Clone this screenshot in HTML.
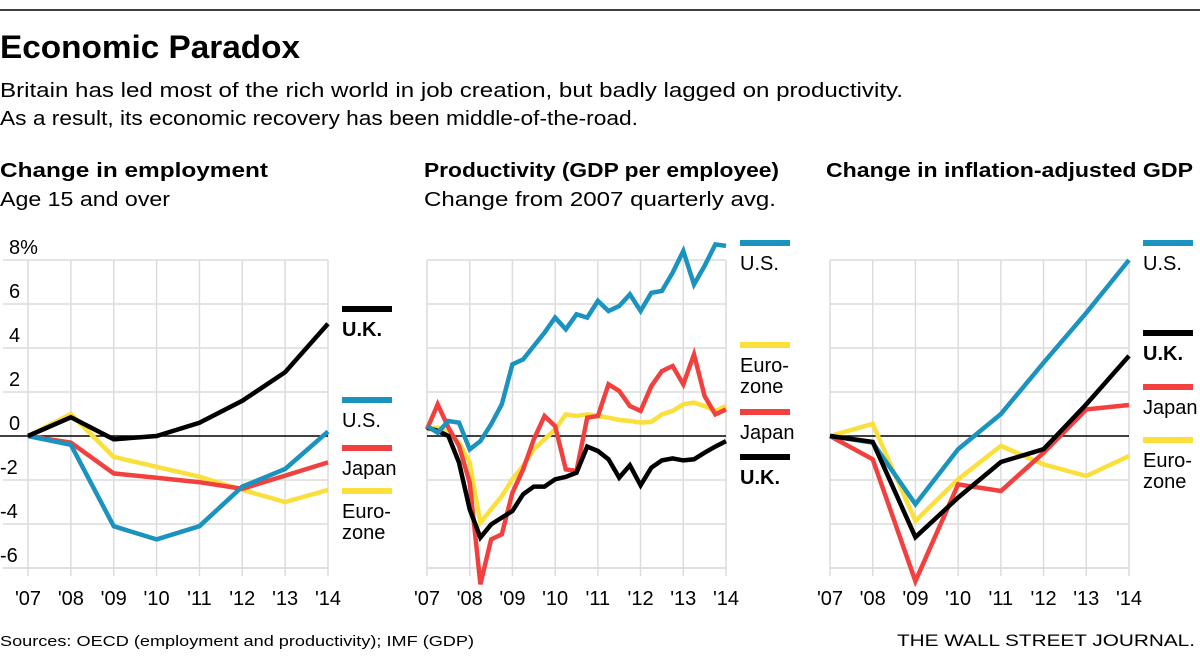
<!DOCTYPE html>
<html><head><meta charset="utf-8"><style>
html,body{margin:0;padding:0;background:#fff;width:1200px;height:657px;overflow:hidden}
text{font-family:"Liberation Sans",sans-serif}
</style></head><body>
<svg id="chart" width="1200" height="657" viewBox="0 0 1200 657" xmlns="http://www.w3.org/2000/svg">
<line x1="0" y1="10" x2="1200" y2="10" stroke="#000" stroke-width="1.5"/>
<text x="0" y="58" font-size="32" font-weight="bold" textLength="300" lengthAdjust="spacingAndGlyphs">Economic Paradox</text>
<text x="0" y="97" font-size="20" textLength="903" lengthAdjust="spacingAndGlyphs">Britain has led most of the rich world in job creation, but badly lagged on productivity.</text>
<text x="0" y="125" font-size="20" textLength="638" lengthAdjust="spacingAndGlyphs">As a result, its economic recovery has been middle-of-the-road.</text>
<text x="0" y="177" font-size="20" font-weight="bold" textLength="268" lengthAdjust="spacingAndGlyphs">Change in employment</text>
<text x="0" y="206" font-size="20" textLength="170" lengthAdjust="spacingAndGlyphs">Age 15 and over</text>
<text x="424" y="177" font-size="20" font-weight="bold" textLength="355" lengthAdjust="spacingAndGlyphs">Productivity (GDP per employee)</text>
<text x="424" y="206" font-size="20" textLength="352" lengthAdjust="spacingAndGlyphs">Change from 2007 quarterly avg.</text>
<text x="826" y="177" font-size="20" font-weight="bold" textLength="367" lengthAdjust="spacingAndGlyphs">Change in inflation-adjusted GDP</text>
<text x="0" y="646" font-size="15" textLength="474" lengthAdjust="spacingAndGlyphs">Sources: OECD (employment and productivity); IMF (GDP)</text>
<text x="1195" y="646" font-size="17" text-anchor="end" font-family="Liberation Serif,serif" textLength="298" lengthAdjust="spacingAndGlyphs">THE WALL STREET JOURNAL.</text>
<g id="plots"></g>
</svg>
<script>
const yearLabels = ["'07","'08","'09","'10","'11","'12","'13","'14"];
const yTickValues = [8,6,4,2,0,-2,-4,-6];
const yTickLabels = ["8%","6","4","2","0","-2","-4","-6"];
// Panel 1: employment (annual)
const empUK = [0,0.85,-0.15,0,0.6,1.6,2.9,5.1];
const empUS = [0,-0.4,-4.1,-4.7,-4.1,-2.3,-1.5,0.2];
const empJapan = [0,-0.3,-1.7,-1.9,-2.1,-2.4,-1.8,-1.2];
const empEuro = [0,1.0,-0.95,-1.4,-1.85,-2.45,-3.0,-2.45];
// Panel 2: productivity (quarterly, 2007Q1..2014Q1)
const prodUS = [0.45,0.15,0.68,0.61,-0.61,-0.23,0.53,1.44,3.26,3.48,4.09,4.7,5.38,4.85,5.53,5.38,6.14,5.68,5.91,6.44,5.68,6.51,6.59,7.42,8.41,6.89,7.73,8.71,8.64];
const prodEuro = [0.3,0.38,0.15,-0.3,-1.21,-3.94,-3.33,-2.73,-1.97,-1.36,-0.61,-0.15,0.3,0.98,0.91,0.98,0.91,0.83,0.73,0.68,0.61,0.64,0.98,1.14,1.44,1.52,1.36,1.14,1.36];
const prodJapan = [0.3,1.44,0.38,-0.45,-2.12,-6.74,-4.7,-4.47,-2.58,-1.52,-0.15,0.91,0.45,-1.52,-1.59,0.83,0.91,2.35,2.05,1.36,1.14,2.27,2.95,3.18,2.35,3.71,1.82,0.98,1.21];
const prodUK = [0.38,0.23,0,-1.21,-3.33,-4.62,-4.02,-3.71,-3.41,-2.65,-2.3,-2.3,-1.97,-1.86,-1.67,-0.48,-0.68,-1.06,-1.89,-1.33,-2.24,-1.44,-1.11,-1.02,-1.11,-1.06,-0.76,-0.48,-0.23];
// Panel 3: GDP (annual)
const gdpUS = [0,-0.3,-3.1,-0.6,1.0,3.33,5.6,8.0];
const gdpUK = [0,-0.27,-4.6,-2.8,-1.18,-0.6,1.44,3.64];
const gdpJapan = [0,-1.06,-6.6,-2.2,-2.5,-0.76,1.21,1.41];
const gdpEuro = [0,0.55,-3.86,-1.97,-0.45,-1.29,-1.82,-0.91];

const NS="http://www.w3.org/2000/svg";
const root=document.getElementById('plots');
const COL={US:"#1a93bf",Japan:"#f2403f",Euro:"#fbdf3b",UK:"#000"};
function yScale(v){return 436 - v*22;}
function mk(tag,attrs,parent){const e=document.createElementNS(NS,tag);for(const k in attrs)e.setAttribute(k,attrs[k]);(parent||root).appendChild(e);return e;}

function panel(id,x0,x1,hx0,series,legend,showY){
  const g=mk('g',{});
  
  
  const xs=i=>x0+(x1-x0)*i/7;
  for(let i=0;i<8;i++){
    const l=mk('line',{x1:xs(i),x2:xs(i),y1:260,y2:576,stroke:"#dcdcdc","stroke-width":1.5},g);
    
    
    const t=mk('text',{x:xs(i),y:605,"font-size":20,"text-anchor":"middle"},g);
    t.textContent=yearLabels[i];
    
    
  }
  yTickValues.forEach((v,k)=>{
    if(v===0)return;
    const l=mk('line',{x1:hx0,x2:x1,y1:yScale(v),y2:yScale(v),stroke:"#dcdcdc","stroke-width":1.5},g);
    
    
  });
  const bottom=mk('line',{x1:hx0,x2:x1,y1:568,y2:568,stroke:"#dcdcdc","stroke-width":1.5},g);
  
  
  if(showY){
    yTickValues.forEach((v,k)=>{
      const t=mk('text',{x:v<0?0:9,y:yScale(v)-6,"font-size":20},g);
      t.textContent=yTickLabels[k];
      
      
    });
  }
  const z=mk('line',{x1:showY?0:hx0,x2:x1,y1:yScale(0),y2:yScale(0),stroke:"#000","stroke-width":1.5},g);
  
  
  series.forEach(s=>{
    const n=s.data.length;
    const pts=s.data.map((v,i)=>(x0+(x1-x0)*i/(n-1)).toFixed(1)+","+yScale(v).toFixed(1)).join(" ");
    const p=mk('polyline',{points:pts,fill:"none",stroke:COL[s.key],"stroke-width":4.5,"stroke-linejoin":"miter"},g);
    
    
  });
  legend.forEach(L=>{
    const b=mk('line',{x1:L.x,x2:L.x+50,y1:L.y,y2:L.y,stroke:COL[L.key],"stroke-width":6},g);
    
    
    L.lines.forEach((txt,j)=>{
      const t=mk('text',{x:L.x,y:L.y+27+j*21,"font-size":20,"font-weight":L.key==="UK"?"bold":"normal"},g);
      t.textContent=txt;
      
      
    });
  });
}
panel('employment-panel',28,328,3,[
  {key:"Euro",data:empEuro,name:"line-eurozone"},{key:"Japan",data:empJapan,name:"line-japan"},
  {key:"US",data:empUS,name:"line-us"},{key:"UK",data:empUK,name:"line-uk"}],
  [{key:"UK",x:342,y:309,lines:["U.K."]},{key:"US",x:342,y:400,lines:["U.S."]},
   {key:"Japan",x:342,y:448,lines:["Japan"]},{key:"Euro",x:342,y:491,lines:["Euro-","zone"]}],true);
panel('productivity-panel',427,726,427,[
  {key:"Euro",data:prodEuro,name:"line-eurozone"},{key:"Japan",data:prodJapan,name:"line-japan"},
  {key:"UK",data:prodUK,name:"line-uk"},{key:"US",data:prodUS,name:"line-us"}],
  [{key:"US",x:740,y:243,lines:["U.S."]},{key:"Euro",x:740,y:345,lines:["Euro-","zone"]},
   {key:"Japan",x:740,y:412,lines:["Japan"]},{key:"UK",x:740,y:457,lines:["U.K."]}],false);
panel('gdp-panel',830,1129,830,[
  {key:"Euro",data:gdpEuro,name:"line-eurozone"},{key:"Japan",data:gdpJapan,name:"line-japan"},
  {key:"US",data:gdpUS,name:"line-us"},{key:"UK",data:gdpUK,name:"line-uk"}],
  [{key:"US",x:1143,y:243,lines:["U.S."]},{key:"UK",x:1143,y:333,lines:["U.K."]},
   {key:"Japan",x:1143,y:387,lines:["Japan"]},{key:"Euro",x:1143,y:440,lines:["Euro-","zone"]}],false);
</script>
</body></html>
